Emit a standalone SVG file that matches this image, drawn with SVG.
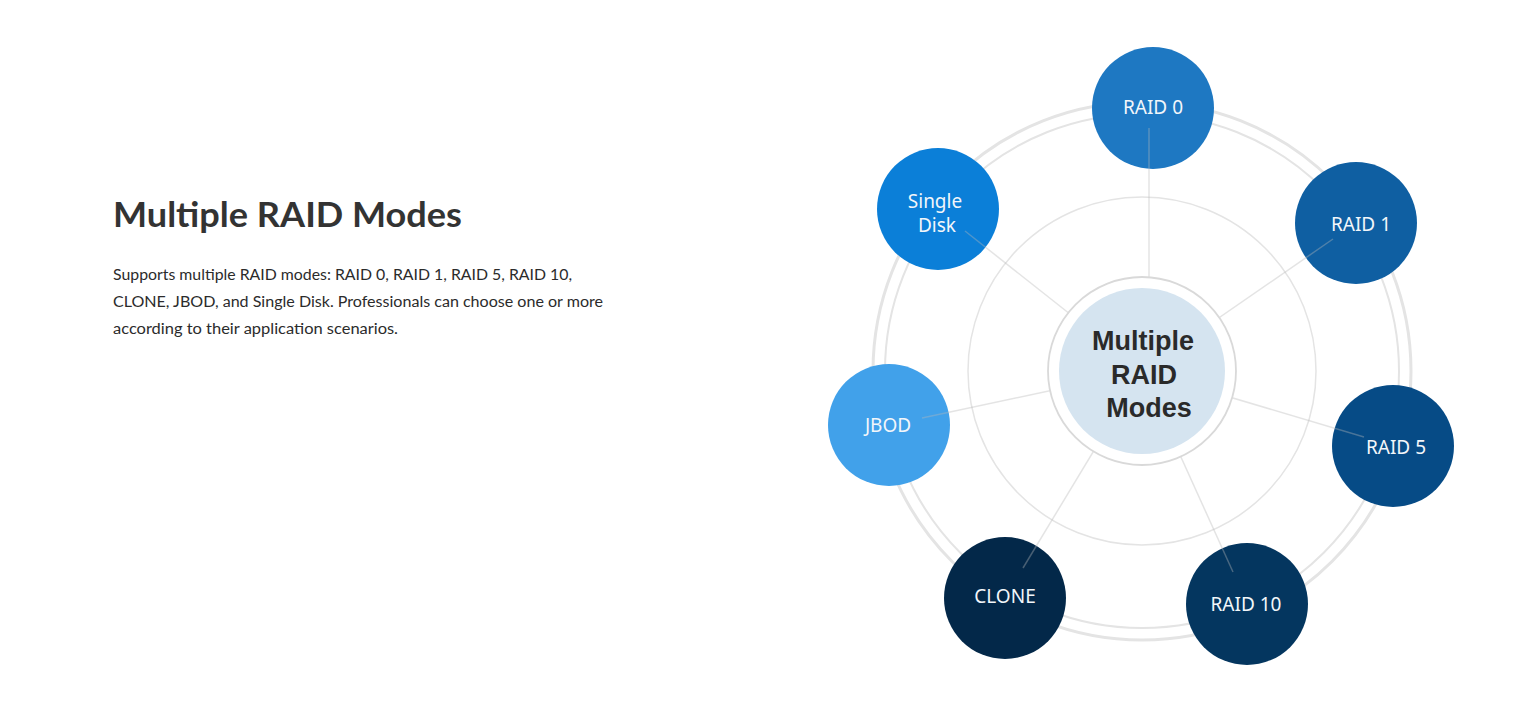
<svg xmlns="http://www.w3.org/2000/svg" width="1518" height="725" viewBox="0 0 1518 725">
<style>
.title{font-family:Lato,"Open Sans","Liberation Sans",sans-serif;font-weight:700;font-size:34px;fill:#333333}
.body{font-family:Lato,"Open Sans","Liberation Sans",sans-serif;font-size:15.5px;fill:#2b2b2b}
.lbl{font-family:"Noto Sans","Liberation Sans",sans-serif;font-size:19px;fill:#f2f6fa;text-anchor:middle}
.hubt{font-family:"Liberation Sans",Arial,sans-serif;font-weight:700;font-size:27px;fill:#2a2a2a;text-anchor:middle}
.ring{fill:none;stroke:#e4e4e4}
.spoke{stroke:rgba(185,185,185,0.38);stroke-width:1.5;fill:none}
</style>
<rect width="1518" height="725" fill="#ffffff"/>
<g id="intro">
<text class="title" x="113" y="227" textLength="349" lengthAdjust="spacingAndGlyphs">Multiple RAID Modes</text>
<text class="body" x="113" y="280" textLength="459" lengthAdjust="spacingAndGlyphs">Supports multiple RAID modes: RAID 0, RAID 1, RAID 5, RAID 10,</text>
<text class="body" x="113" y="307" textLength="490" lengthAdjust="spacingAndGlyphs">CLONE, JBOD, and Single Disk. Professionals can choose one or more</text>
<text class="body" x="113" y="334" textLength="285" lengthAdjust="spacingAndGlyphs">according to their application scenarios.</text>
</g>
<g id="rings">
<circle class="ring" cx="1142" cy="371" r="269" stroke-width="3" stroke="#e6e6e6"/>
<circle class="ring" cx="1142" cy="371" r="257" stroke-width="2" stroke="#ebebeb"/>
<circle class="ring" cx="1142" cy="371" r="174" stroke-width="1.5" stroke="#e6e6e6"/>
</g>
<g id="node-raid0"><circle cx="1153" cy="108" r="61" fill="#1e78c2"/><text class="lbl" x="1153" y="114">RAID 0</text></g>
<g id="node-raid1"><circle cx="1356" cy="223" r="61" fill="#0f5fa2"/><text class="lbl" x="1361" y="231">RAID 1</text></g>
<g id="node-raid5"><circle cx="1393" cy="446" r="61" fill="#064b86"/><text class="lbl" x="1396" y="454">RAID 5</text></g>
<g id="node-raid10"><circle cx="1247" cy="604" r="61" fill="#04365f"/><text class="lbl" x="1246" y="611">RAID 10</text></g>
<g id="node-clone"><circle cx="1005" cy="598" r="61" fill="#032849"/><text class="lbl" x="1005" y="603">CLONE</text></g>
<g id="node-jbod"><circle cx="889" cy="425" r="61" fill="#41a1ea"/><text class="lbl" x="888" y="432">JBOD</text></g>
<g id="node-single"><circle cx="938" cy="209" r="61" fill="#0b7fd8"/><text class="lbl" x="935" y="208">Single</text><text class="lbl" x="937" y="232">Disk</text></g>
<g id="connectors">
<line class="spoke" x1="1149" y1="128" x2="1149" y2="300"/>
<line class="spoke" x1="1333" y1="239" x2="1142" y2="371"/>
<line class="spoke" x1="1364" y1="437" x2="1142" y2="371"/>
<line class="spoke" x1="1233" y1="572" x2="1142" y2="371"/>
<line class="spoke" x1="1023" y1="568" x2="1142" y2="371"/>
<line class="spoke" x1="922" y1="418" x2="1142" y2="371"/>
<line class="spoke" x1="965" y1="231" x2="1142" y2="371"/>
</g>
<g id="hub">
<circle cx="1142" cy="371" r="94" fill="#ffffff" stroke="#d9d9d9" stroke-width="1.8"/>
<circle cx="1142" cy="371" r="83" fill="#d5e4f0"/>
<text class="hubt" x="1143" y="350">Multiple</text>
<text class="hubt" x="1144" y="384">RAID</text>
<text class="hubt" x="1149" y="417">Modes</text>
</g>
</svg>
